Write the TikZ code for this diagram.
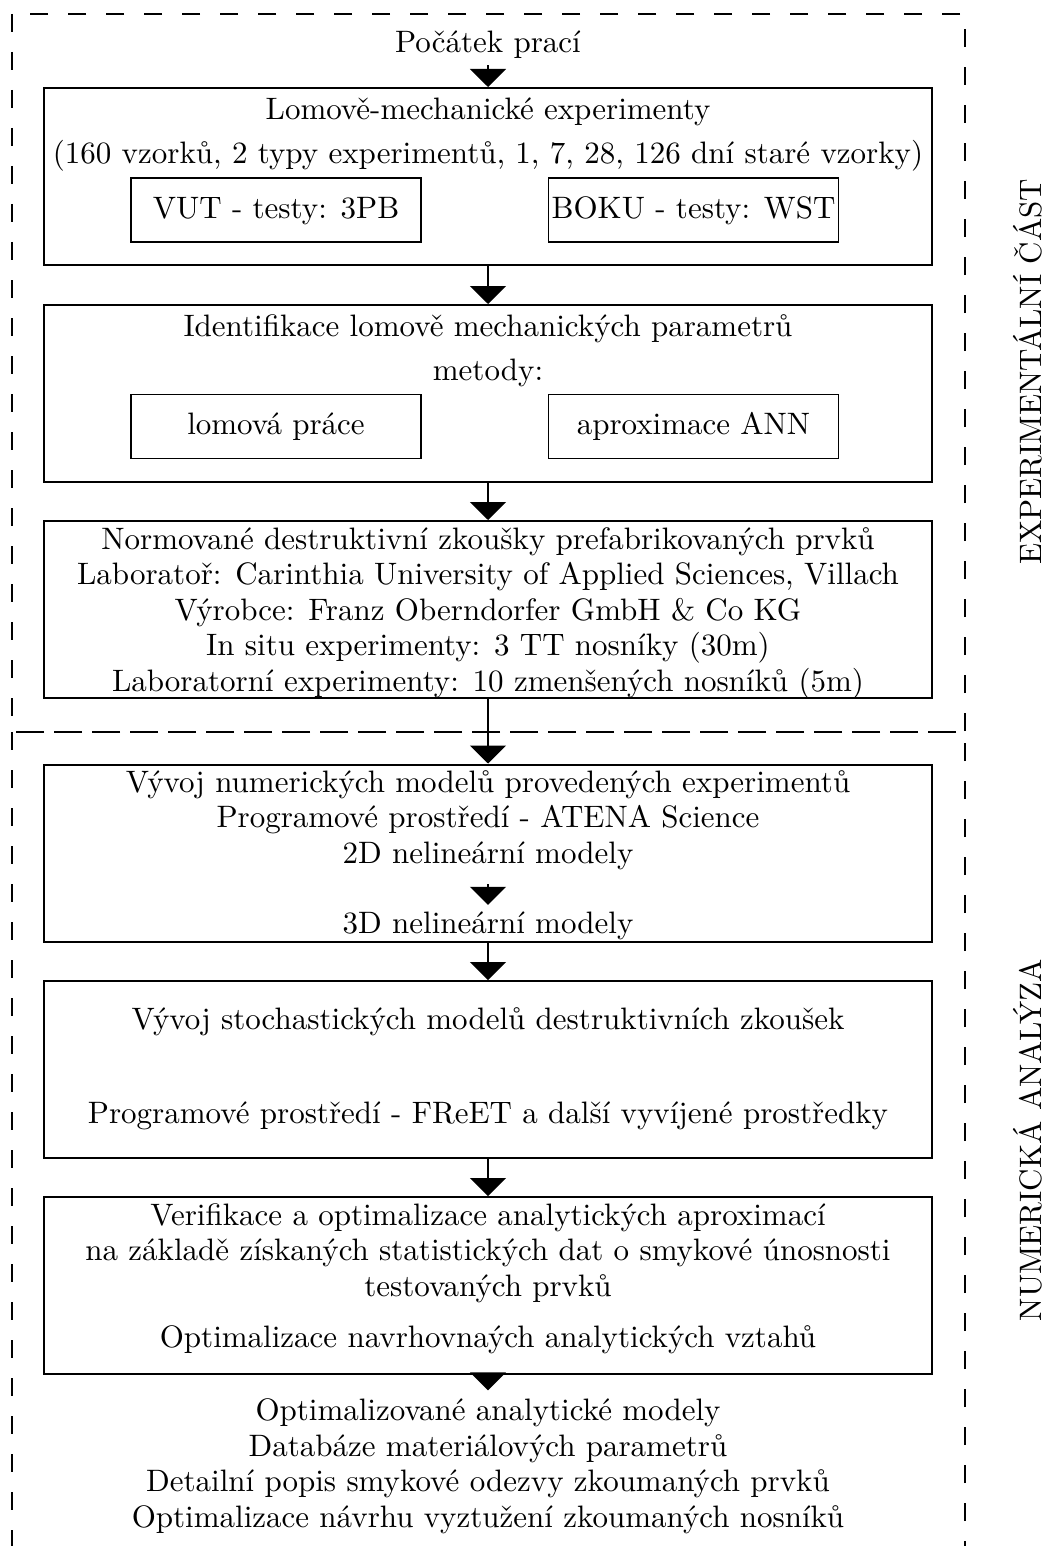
\documentclass[tikz,border=0pt]{standalone}
\usetikzlibrary{arrows.meta}
% Latin Modern Roman, 10pt design, used at one fixed size throughout
\font\chartfont="[lmroman10-regular]:mapping=tex-text" at 15.5pt
\newcommand\chartlines{\chartfont\setlength{\baselineskip}{17.75pt}\relax}
\begin{document}
\begin{tikzpicture}[x=0.5pt,y=-0.5pt,
  txt/.style={font=\chartfont, inner sep=0pt, text height=0.9em, text depth=0.08em},
  multi/.style={font=\chartlines, inner sep=0pt, align=center},
  stage/.style={draw, line width=1pt, minimum width=444pt, minimum height=88.5pt, inner sep=0pt},
  sub/.style={draw, line width=0.8pt, minimum width=145pt, minimum height=32pt, txt},
  part/.style={draw, dash pattern=on 9pt off 10pt, line width=0.8pt},
  flow/.style={line width=0.8pt, -{Triangle[width=18pt,length=9pt]}},
  side/.style={font=\chartfont, inner sep=0pt, text height=0.7em, text depth=0em, rotate=90},
]
\useasboundingbox (0,0) rectangle (1046,1546);

% section frames
\begin{scope}
  \clip (0,0) rectangle (1046,1546);
  \draw[part] (12,14) rectangle (965,732);
  \draw[part] (12,732) rectangle (965,1600);
\end{scope}
\node[side] (lexp) at (1034,372) {EXPERIMENTÁLNÍ ČÁST};
\node[side] (lnum) at (1034,1140) {NUMERICKÁ ANALÝZA};

% start
\node[txt] (start) at (488,44) {Počátek prací};

% stage 1
\node[stage] (b1) at (488,176.5) {};
\node[txt] (b1a) at (488,111) {Lomově-mechanické experimenty};
\node[txt] (b1b) at (488,155) {(160 vzorků, 2 typy experimentů, 1, 7, 28, 126 dní staré vzorky)};
\node[sub] (vut) at (276,210) {VUT - testy: 3PB};
\node[sub] (boku) at (693.5,210) {BOKU - testy: WST};

% stage 2
\node[stage] (b2) at (488,393.5) {};
\node[txt] (b2a) at (488,328) {Identifikace lomově mechanických parametrů};
\node[txt] (b2b) at (488,372) {metody:};
\node[sub] (lp) at (276,426.5) {lomová práce};
\node[sub] (ann) at (693.5,426.5) {aproximace ANN};

% stage 3
\node[stage] (b3) at (488,609.5) {};
\node[multi] (b3a) at (488,613) {Normované destruktivní zkoušky prefabrikovaných prvků\\
Laboratoř: Carinthia University of Applied Sciences, Villach\\
Výrobce: Franz Oberndorfer GmbH \& Co KG\\
In situ experimenty: 3 TT nosníky (30m)\\
Laboratorní experimenty: 10 zmenšených nosníků (5m)};

% stage 4
\node[stage] (b4) at (488,853) {};
\node[multi] (b4a) at (488,820) {Vývoj numerických modelů provedených experimentů\\
Programové prostředí - ATENA Science\\
2D nelineární modely};
\node[txt] (b4b) at (488,925) {3D nelineární modely};

% stage 5
\node[stage] (b5) at (488,1069.5) {};
\node[txt] (b5a) at (488,1021) {Vývoj stochastických modelů destruktivních zkoušek};
\node[txt] (b5b) at (488,1115) {Programové prostředí - FReET a další vyvíjené prostředky};

% stage 6
\node[stage] (b6) at (488,1285.5) {};
\node[multi] (b6a) at (488,1253) {Verifikace a optimalizace analytických aproximací\\
na základě získaných statistických dat o smykové únosnosti\\
testovaných prvků};
\node[txt] (b6b) at (488,1339) {Optimalizace navrhovnaých analytických vztahů};

% outcomes
\node[multi] (res) at (488,1466) {Optimalizované analytické modely\\
Databáze materiálových parametrů\\
Detailní popis smykové odezvy zkoumaných prvků\\
Optimalizace návrhu vyztužení zkoumaných nosníků};

% flow
\draw[flow, shorten <=5.5pt] (start) -- (b1);
\draw[flow] (b1) -- (b2);
\draw[flow] (b2) -- (b3);
\draw[flow] (b3) -- (b4);
\draw[flow, shorten <=7pt, shorten >=5pt] (b4a) -- (b4b);
\draw[flow] (b4) -- (b5);
\draw[flow] (b5) -- (b6);
\draw[flow, shorten >=4pt] (b6) -- (res);
\end{tikzpicture}
\end{document}
